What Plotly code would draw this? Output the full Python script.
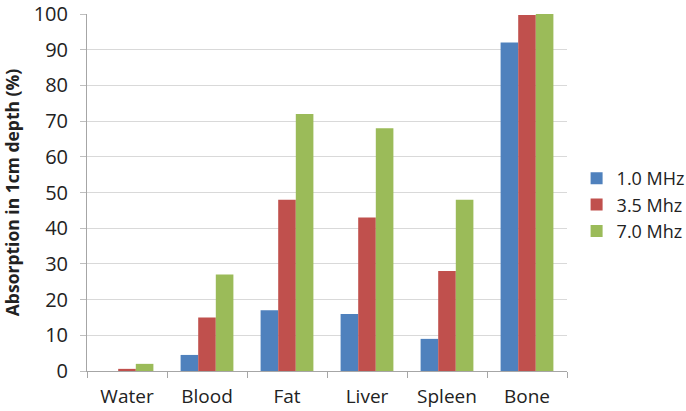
import plotly.graph_objects as go

categories = ["Water", "Blood", "Fat", "Liver", "Spleen", "Bone"]
series_names = ["1.0 MHz", "3.5 Mhz", "7.0 Mhz"]
mhz_1_0 = [0, 4.5, 17, 16, 9, 92]
mhz_3_5 = [0.6, 15, 48, 43, 28, 99.7]
mhz_7_0 = [2, 27, 72, 68, 48, 100]
colors = ["#4F81BD", "#C0504D", "#9BBB59"]
y_ticks = [0, 10, 20, 30, 40, 50, 60, 70, 80, 90, 100]

fig = go.Figure()
for name, vals, c in zip(series_names, [mhz_1_0, mhz_3_5, mhz_7_0], colors):
    fig.add_trace(go.Bar(x=categories, y=vals, name=name, marker_color=c,
                         marker_line_width=0))

font = "Open Sans, Liberation Sans, sans-serif"
fig.update_layout(
    width=686, height=411,
    margin=dict(l=87, r=119, t=14, b=40, autoexpand=False),
    paper_bgcolor="white", plot_bgcolor="white",
    barmode="group", bargap=0.34, bargroupgap=0,
    font=dict(family=font, size=19, color="#222222"),
    showlegend=True,
    legend=dict(x=1.02, y=0.465, xanchor="left", yanchor="middle",
                font=dict(size=18, color="#222222"), tracegroupgap=0,
                itemwidth=30),
)
fig.update_xaxes(
    showline=True, linecolor="#A6A6A6", linewidth=1, automargin=False,
    ticks="outside", tickson="boundaries", ticklen=6, tickcolor="#A6A6A6",
    tickfont=dict(size=19), showgrid=False, ticklabeloverflow="allow",
    ticklabelstandoff=8,
)
fig.update_yaxes(
    range=[0, 100], tickvals=y_ticks, showline=True, linecolor="#A6A6A6",
    linewidth=1, gridcolor="#D9D9D9", gridwidth=1, zeroline=False,
    tickfont=dict(size=20), ticks="outside", ticklen=6, tickcolor="#BFBFBF",
    ticklabelstandoff=8, automargin=False, ticklabeloverflow="allow",
    title=dict(text="<b>Absorption in 1cm depth (%)</b>", font=dict(size=17.5), standoff=23),
)
fig.write_html("out.html", config={"displayModeBar": False},
               post_script="document.body.style.margin='0';")
